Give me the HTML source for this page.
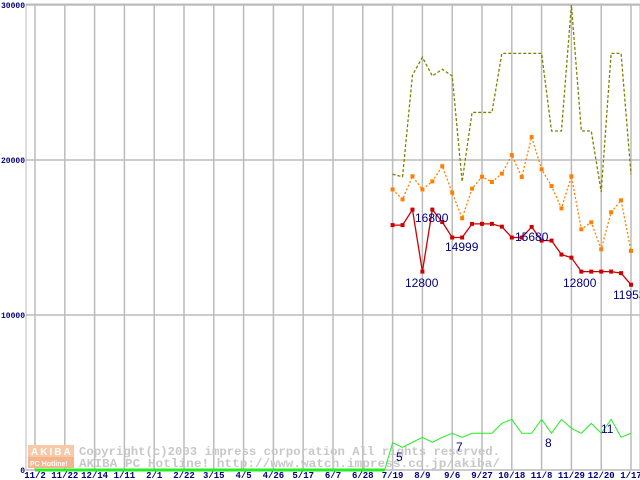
<!DOCTYPE html>
<html><head><meta charset="utf-8"><style>
body{margin:0;background:#fff;}
svg{display:block;font-family:"Liberation Mono",monospace;}
</style></head><body>
<svg id="chart" width="640" height="480" viewBox="0 0 640 480" xmlns="http://www.w3.org/2000/svg">
<g id="grid"></g>
<g id="watermark">
 <rect x="28" y="445" width="46" height="12" fill="#f7c9a8"/>
 <rect x="28" y="457" width="46" height="11" fill="#f4b58c"/>
 <text x="31" y="455" font-size="10" font-weight="bold" fill="#fff" font-family="Liberation Sans, sans-serif" letter-spacing="2">AKIBA</text>
 <text x="30" y="466" font-size="7" font-weight="bold" fill="#fff" font-family="Liberation Sans, sans-serif">PC Hotline!</text>
 <text x="79" y="455" font-size="12" font-weight="bold" fill="#c8c8c8" textLength="421" lengthAdjust="spacingAndGlyphs">Copyright(c)2003 impress corporation All rights reserved.</text>
 <text x="79" y="467" font-size="12" font-weight="bold" fill="#c8c8c8" textLength="421" lengthAdjust="spacingAndGlyphs">AKIBA PC Hotline!  http://www.watch.impress.co.jp/akiba/</text>
</g>
<g id="series"></g>
<g id="labels"></g>
</svg>
<script>
const xTickLabels=["11/2","11/22","12/14","1/11","2/1","2/22","3/15","4/5","4/26","5/17","6/7","6/28","7/19","8/9","9/6","9/27","10/18","11/8","11/29","12/20","1/17"];
const yTickValues=[0,10000,20000,30000];
const startWeek=36;
const redValues=[15800,15800,16800,12800,16800,16000,14999,14999,15880,15880,15880,15700,14999,14999,15680,14800,14800,13900,13700,12800,12800,12800,12800,12700,11953];
const orangeValues=[18100,17460,18950,18100,18620,19600,17900,16240,18150,18920,18580,19120,20320,18900,21480,19400,18320,16880,18950,15530,15980,14240,16630,17400,14130];
const oliveValues=[19080,18920,25480,26620,25420,25850,25420,18600,23070,23070,23070,26880,26880,26880,26880,26880,21870,21870,30000,21870,21870,17950,26880,26880,19080];
const greenValues=[1760,1460,1790,2110,1790,2110,2370,2110,2370,2370,2370,3010,3270,2370,2370,3270,2370,3270,2690,2370,3010,2370,3270,2110,2370];
const redLabels=[[2,"16800",415,222],[3,"12800",405,287],[6,"14999",445,251],[14,"15680",515,241],[19,"12800",563,287],[24,"11953",613,299]];
const greenLabels=[["5",396,461],["7",456,451],["8",545,447],["11",601,433]];
const NS="http://www.w3.org/2000/svg";
function xw(w){return 35+w*29.8/3;}
function y(v){return 470-v*0.0155;}
function mk(tag,attrs,parent){const e=document.createElementNS(NS,tag);for(const k in attrs)e.setAttribute(k,attrs[k]);parent.appendChild(e);return e;}
const grid=document.getElementById('grid');
mk('rect',{x:26,y:4,width:614,height:466,fill:'none',stroke:'#bbb','stroke-width':1},grid);
xTickLabels.forEach((t,i)=>{
 const x=xw(i*3);
 const l=mk('line',{x1:x,x2:x,y1:4,y2:470,stroke:'#bbb','stroke-width':1.5},grid);
 
 
 const tx=mk('text',{x:x,y:478,'font-size':9,'font-weight':'bold',fill:'#000080','text-anchor':'middle'},grid);
 tx.textContent=t;
 
 
});
yTickValues.forEach(v=>{
 const l=mk('line',{x1:26,x2:640,y1:y(v),y2:y(v),stroke:'#bbb','stroke-width':1.5},grid);
 
 
 const tx=mk('text',{x:25,y:y(v)+3,'font-size':8,'font-weight':'bold',fill:'#000080','text-anchor':'end'},grid);
 tx.textContent=String(v);
 
 
});
const s=document.getElementById('series');
function pts(vals,off){return vals.map((v,i)=>xw(off+i)+','+y(v)).join(' ');}
const gz=[];for(let i=0;i<startWeek;i++)gz.push(0);
const g0=mk('polyline',{points:pts(gz,0)+' '+xw(startWeek-0.8)+','+y(0),fill:'none',stroke:'#22ee22','stroke-width':3},s);


const g1=mk('polyline',{points:xw(startWeek-0.8)+','+y(0)+' '+pts(greenValues,startWeek),fill:'none',stroke:'#22ee22','stroke-width':1},s);


const ol=mk('polyline',{points:pts(oliveValues,startWeek),fill:'none',stroke:'#808000','stroke-width':1.3,'stroke-dasharray':'3,2'},s);


const or=mk('polyline',{points:pts(orangeValues,startWeek),fill:'none',stroke:'#ff8000','stroke-width':1.3,'stroke-dasharray':'2,2'},s);


orangeValues.forEach((v,i)=>{
 const r=mk('rect',{x:xw(startWeek+i)-2,y:y(v)-2,width:4,height:4,fill:'#ff8000'},s);
 
 
});
const rd=mk('polyline',{points:pts(redValues,startWeek),fill:'none',stroke:'#cc0000','stroke-width':1.3},s);


redValues.forEach((v,i)=>{
 const r=mk('rect',{x:xw(startWeek+i)-2,y:y(v)-2,width:4,height:4,fill:'#cc0000'},s);
 
 
});
const lb=document.getElementById('labels');
redLabels.forEach(a=>{
 const t=mk('text',{x:a[2],y:a[3],'font-size':12,fill:'#000080','font-family':'Liberation Sans, sans-serif'},lb);
 t.textContent=a[1];
 
 
});
greenLabels.forEach(a=>{
 const t=mk('text',{x:a[1],y:a[2],'font-size':12,fill:'#000080','font-family':'Liberation Sans, sans-serif'},lb);
 t.textContent=a[0];
 
 
});
</script>
</body></html>
